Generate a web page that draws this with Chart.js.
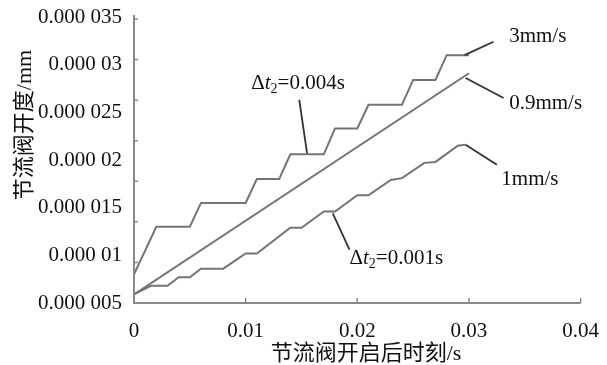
<!DOCTYPE html>
<html>
<head>
<meta charset="utf-8">
<script src="https://cdn.jsdelivr.net/npm/chart.js@4.4.1/dist/chart.umd.min.js"></script>
<style>
  html, body { margin: 0; padding: 0; background: #fff; }
  #wrap { width: 607px; height: 365px; position: relative; }
</style>
</head>
<body>
<div id="wrap"><canvas id="valveChart"></canvas></div>
<script>
// data (x in s, y in mm)
var xTicks = [0, 0.01, 0.02, 0.03, 0.04];
var xTickLabels = ['0', '0.01', '0.02', '0.03', '0.04'];
var yTicks = [5e-6, 10e-6, 15e-6, 20e-6, 25e-6, 30e-6, 35e-6];
var yTickLabels = ['0.000 005', '0.000 01', '0.000 015', '0.000 02', '0.000 025', '0.000 03', '0.000 035'];

// 3mm/s, dt2 = 0.004s
var xFast = [0, 0.002, 0.005, 0.006, 0.010, 0.011, 0.013, 0.014, 0.017, 0.018, 0.020, 0.021, 0.024, 0.025, 0.027, 0.028, 0.030];
var yFast = [8.0e-6, 13.0e-6, 13.0e-6, 15.5e-6, 15.5e-6, 18.0e-6, 18.0e-6, 20.6e-6, 20.6e-6, 23.3e-6, 23.3e-6, 25.8e-6, 25.8e-6, 28.4e-6, 28.4e-6, 31.0e-6, 31.0e-6];

// 0.9mm/s
var xMid = [0, 0.030];
var yMid = [5.9e-6, 29.1e-6];

// 1mm/s, dt2 = 0.001s
var xSlow = [0, 0.0015, 0.003, 0.004, 0.005, 0.006, 0.008, 0.010, 0.011, 0.014, 0.015, 0.017, 0.018, 0.020, 0.021, 0.023, 0.024, 0.026, 0.027, 0.029, 0.0297];
var ySlow = [5.9e-6, 6.8e-6, 6.8e-6, 7.7e-6, 7.7e-6, 8.6e-6, 8.6e-6, 10.2e-6, 10.2e-6, 12.9e-6, 12.9e-6, 14.6e-6, 14.6e-6, 16.3e-6, 16.3e-6, 17.9e-6, 18.1e-6, 19.7e-6, 19.8e-6, 21.5e-6, 21.6e-6];

// labels with leader lines: text anchor + line from curve to label (data coords)
var notes = [
  { dt: '0.004s', tx: 0.0105, ty: 27.5e-6, from: [0.0155, 20.7e-6], to: [0.0148, 26.3e-6] },
  { text: '3mm/s', tx: 0.0336, ty: 32.4e-6, from: [0.0296, 31.0e-6], to: [0.0322, 32.4e-6] },
  { text: '0.9mm/s', tx: 0.0336, ty: 25.3e-6, from: [0.0297, 28.6e-6], to: [0.0331, 26.5e-6] },
  { text: '1mm/s', tx: 0.0329, ty: 17.4e-6, from: [0.0297, 21.6e-6], to: [0.0325, 19.5e-6] },
  { dt: '0.001s', tx: 0.0193, ty: 9.1e-6, from: [0.0178, 14.4e-6], to: [0.0193, 10.6e-6] }
];

var serif = '"Liberation Serif", "Times New Roman", serif';
var cjk = '"Liberation Serif", "Noto Sans CJK SC", serif';

function pts(xs, ys) {
  return xs.map(function(x, i) { return { x: x, y: ys[i] }; });
}

var lineStyle = { borderColor: '#747474', borderWidth: 2, pointRadius: 0, showLine: true, fill: false, tension: 0 };

var decor = {
  id: 'decor',
  afterDraw: function(chart) {
    var c = chart.ctx, xs = chart.scales.x, ys = chart.scales.y, ya = chart.chartArea;
    c.save();
    // axes
    c.strokeStyle = '#8a8a8a';
    c.lineWidth = 2;
    c.beginPath();
    c.moveTo(ya.left, ya.top - 2);
    c.lineTo(ya.left, ya.bottom);
    c.lineTo(ya.right, ya.bottom);
    c.stroke();
    // inward tick marks
    c.lineWidth = 1.5;
    c.beginPath();
    xTicks.forEach(function(v) {
      var px = xs.getPixelForValue(v);
      c.moveTo(px, ya.bottom);
      c.lineTo(px, ya.bottom - 5);
    });
    var tk = chart.scales.yTicks;
    for (var i = 0; i <= 7; i++) {
      var py = tk.getPixelForValue(i);
      c.moveTo(ya.left, py);
      c.lineTo(ya.left + 4, py);
    }
    c.stroke();

    // leader lines
    c.strokeStyle = '#333';
    c.lineWidth = 1.8;
    notes.forEach(function(n) {
      c.beginPath();
      c.moveTo(xs.getPixelForValue(n.from[0]), ys.getPixelForValue(n.from[1]));
      c.lineTo(xs.getPixelForValue(n.to[0]), ys.getPixelForValue(n.to[1]));
      c.stroke();
    });

    // note texts
    c.fillStyle = '#111';
    c.textBaseline = 'alphabetic';
    c.textAlign = 'left';
    notes.forEach(function(n) {
      var px = xs.getPixelForValue(n.tx), py = ys.getPixelForValue(n.ty);
      if (n.text) {
        c.font = '21px ' + serif;
        c.fillText(n.text, px, py);
      } else {
        c.font = '21px ' + serif;
        c.fillText('\u0394', px, py);
        px += c.measureText('\u0394').width;
        c.font = 'italic 21px ' + serif;
        c.fillText('t', px, py);
        px += c.measureText('t').width;
        c.font = '14px ' + serif;
        c.fillText('2', px, py + 4);
        px += c.measureText('2').width;
        c.font = '21px ' + serif;
        c.fillText('=' + n.dt, px, py);
      }
    });

    // axis titles
    c.font = '22px ' + cjk;
    c.textAlign = 'center';
    c.textBaseline = 'middle';
    c.fillText('节流阀开启后时刻/s', 366, 354);
    c.translate(25, 125);
    c.rotate(-Math.PI / 2);
    c.fillText('节流阀开度/mm', 0, 0);
    c.restore();
  }
};

var ctx = document.getElementById('valveChart').getContext('2d');
var valveChart = new Chart(ctx, {
  type: 'scatter',
  data: {
    datasets: [
      Object.assign({ label: '3mm/s', data: pts(xFast, yFast) }, lineStyle),
      Object.assign({ label: '0.9mm/s', data: pts(xMid, yMid) }, lineStyle),
      Object.assign({ label: '1mm/s', data: pts(xSlow, ySlow) }, lineStyle)
    ]
  },
  options: {
    responsive: true,
    maintainAspectRatio: false,
    animation: false,
    layout: { padding: { top: 17, right: 25, left: 0, bottom: 0 } },
    plugins: { legend: { display: false }, tooltip: { enabled: false } },
    scales: {
      x: {
        type: 'linear',
        min: 0,
        max: 0.04,
        afterBuildTicks: function(s) { s.ticks = xTicks.map(function(v) { return { value: v }; }); },
        afterFit: function(s) { s.height = 62; },
        border: { display: false },
        grid: { display: false },
        ticks: {
          color: '#111',
          padding: 8,
          maxRotation: 0,
          font: { family: serif, size: 21 },
          callback: function(v) { return xTickLabels[xTicks.indexOf(v)]; }
        }
      },
      y: {
        type: 'linear',
        min: 5e-6,
        max: 35e-6,
        afterBuildTicks: function(s) { s.ticks = yTicks.map(function(v) { return { value: v }; }); },
        afterFit: function(s) { s.width = 134; },
        border: { display: false },
        grid: { display: false },
        ticks: {
          color: '#111',
          padding: 4,
          font: { family: serif, size: 21 },
          callback: function(v) {
            for (var i = 0; i < yTicks.length; i++) {
              if (Math.abs(yTicks[i] - v) < 1e-9) return yTickLabels[i];
            }
            return '';
          }
        }
      },
      yTicks: { type: 'linear', display: false, min: 0, max: 7.05 }
    }
  },
  plugins: [decor]
});
</script>
</body>
</html>
